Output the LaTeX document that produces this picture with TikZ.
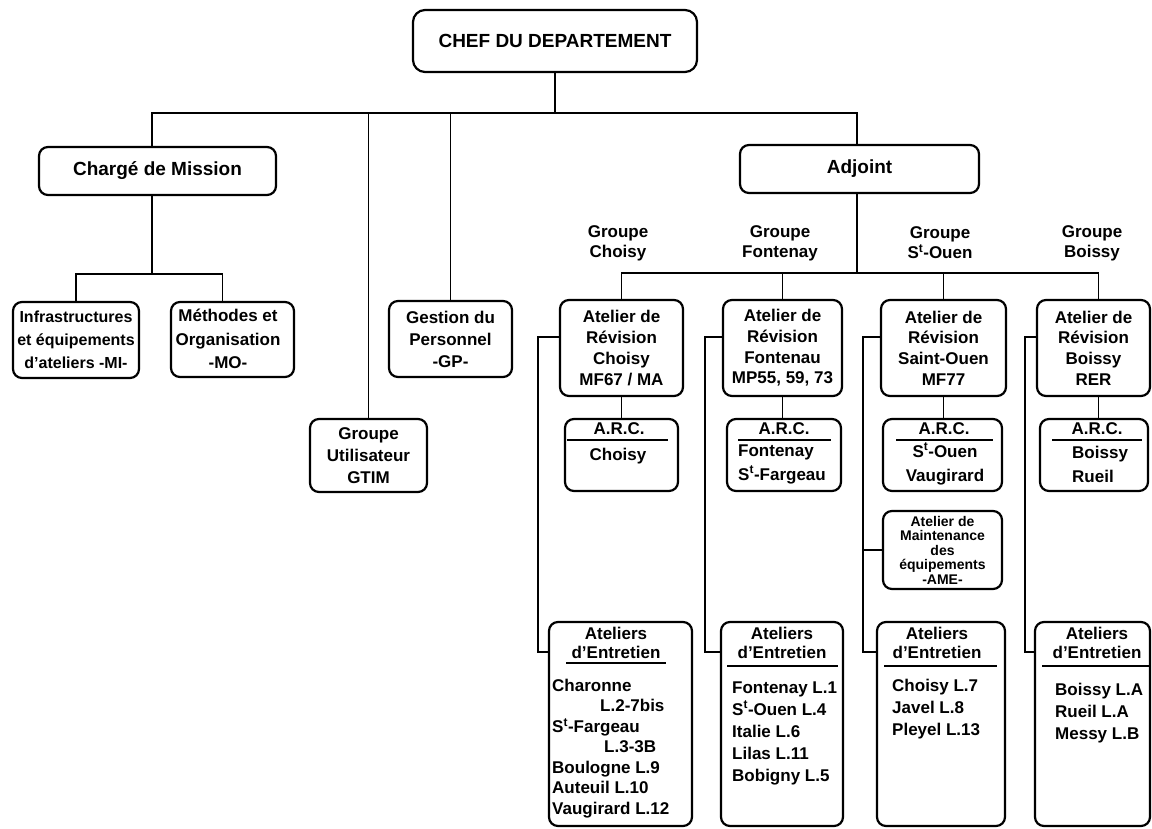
\documentclass[tikz,border=0pt]{standalone}
\usepackage{fontspec}
\setmainfont{Liberation Sans}
\newcommand{\St}{S\textsuperscript{t}}
\begin{document}
\begin{tikzpicture}[x=1pt,y=-1pt,
  box/.style={draw, line width=2.2pt, rounded corners=9pt, inner sep=0pt, align=center,
    font=\bfseries\fontsize{17}{22}\selectfont},
  conn/.style={line width=1.8pt},
  txt/.style={inner sep=0pt, align=center, font=\bfseries\fontsize{17}{22}\selectfont},
  list/.style={inner sep=0pt, align=left, anchor=west, font=\bfseries\fontsize{17}{22}\selectfont},
  rule/.style={line width=1.6pt},
]
\useasboundingbox (0,0) rectangle (1152,828);

% --- top level
\node[box, rounded corners=12pt, minimum width=284pt, minimum height=62pt,
  font=\bfseries\fontsize{19}{22}\selectfont] (chef) at (555,41) {CHEF DU DEPARTEMENT};
\node[box, minimum width=237pt, minimum height=48pt,
  font=\bfseries\fontsize{19}{22}\selectfont] (charge) at (157.5,171) {Chargé de Mission};
\node[box, minimum width=239pt, minimum height=48pt,
  font=\bfseries\fontsize{19}{22}\selectfont] (adjoint) at (859.5,169) {Adjoint};

% --- staff units
\node[box, minimum width=126pt, minimum height=76pt,
  font=\bfseries\fontsize{16}{23}\selectfont] (infra) at (76,340)
  {Infrastructures\\et équipements\\d'ateliers -MI-};
\node[box, minimum width=123pt, minimum height=75pt] (methodes) at (232.5,339.5) {};
\node[txt, font=\bfseries\fontsize{17}{23.5}\selectfont] (methodesT) at (228,339) {Méthodes et\\Organisation\\-MO-};
\node[box, minimum width=123pt, minimum height=76pt] (gestion) at (450.5,339)
  {Gestion du\\Personnel\\-GP-};
\node[box, minimum width=117pt, minimum height=73pt] (gtim) at (368.5,455.5)
  {Groupe\\Utilisateur\\GTIM};

% --- group headings
\node[txt, font=\bfseries\fontsize{17}{20}\selectfont] (gC) at (618,243) {Groupe\\Choisy};
\node[txt, font=\bfseries\fontsize{17}{20}\selectfont] (gF) at (780,243) {Groupe\\Fontenay};
\node[txt, font=\bfseries\fontsize{17}{20}\selectfont] (gS) at (940,243) {Groupe\\\St-Ouen};
\node[txt, font=\bfseries\fontsize{17}{20}\selectfont] (gB) at (1092,243) {Groupe\\Boissy};

% --- revision workshops
\node[box, minimum width=123pt, minimum height=96pt, font=\bfseries\fontsize{17}{20.7}\selectfont]
  (rc) at (621.5,348) {Atelier de\\Révision\\Choisy\\MF67 / MA};
\node[box, minimum width=119pt, minimum height=96pt, font=\bfseries\fontsize{17}{20.7}\selectfont]
  (rf) at (782.5,348) {Atelier de\\Révision\\Fontenau\\MP55, 59, 73};
\node[box, minimum width=125pt, minimum height=96pt, font=\bfseries\fontsize{17}{20.7}\selectfont]
  (rs) at (943.5,348) {Atelier de\\Révision\\Saint-Ouen\\MF77};
\node[box, minimum width=113pt, minimum height=96pt, font=\bfseries\fontsize{17}{20.7}\selectfont]
  (rb) at (1093.5,348) {Atelier de\\Révision\\Boissy\\RER};

% --- A.R.C. boxes
\node[box, minimum width=113pt, minimum height=72pt] (ac) at (621.5,455) {};
\node[box, minimum width=114pt, minimum height=72pt] (af) at (784,455) {};
\node[box, minimum width=119pt, minimum height=72pt] (as) at (942.5,455) {};
\node[box, minimum width=108pt, minimum height=72pt] (ab) at (1094,455) {};
\node[txt] (acH) at (619,429) {A.R.C.};
\node[txt] (afH) at (784,429) {A.R.C.};
\node[txt] (asH) at (944,429) {A.R.C.};
\node[txt] (abH) at (1097,429) {A.R.C.};
\draw[rule] (567,440) -- (668,440);
\draw[rule] (738,440) -- (831,440);
\draw[rule] (896,440) -- (993,440);
\draw[rule] (1052,440) -- (1142,440);
\node[txt] (acT) at (618,456) {Choisy};
\node[list, font=\bfseries\fontsize{17}{24}\selectfont] (afT) at (738,464) {Fontenay\\\St-Fargeau};
\node[txt, font=\bfseries\fontsize{17}{24}\selectfont] (asT) at (945,464) {\St-Ouen\\Vaugirard};
\node[list, font=\bfseries\fontsize{17}{24}\selectfont] (abT) at (1072,464) {Boissy\\Rueil};

% --- equipment maintenance
\node[box, minimum width=119pt, minimum height=78pt, font=\bfseries\fontsize{14}{14.5}\selectfont]
  (ame) at (942.5,550) {Atelier de\\Maintenance\\des\\équipements\\-AME-};

% --- maintenance workshops
\node[box, minimum width=143pt, minimum height=204pt] (ec) at (620.5,724) {};
\node[box, minimum width=122pt, minimum height=204pt] (ef) at (782,724) {};
\node[box, minimum width=128pt, minimum height=204pt] (es) at (941,724) {};
\node[box, minimum width=115pt, minimum height=204pt] (eb) at (1092.5,724) {};
\node[txt, font=\bfseries\fontsize{17}{19.5}\selectfont] (ecH) at (616,643) {Ateliers\\d'Entretien};
\node[txt, font=\bfseries\fontsize{17}{19.5}\selectfont] (efH) at (782,643) {Ateliers\\d'Entretien};
\node[txt, font=\bfseries\fontsize{17}{19.5}\selectfont] (esH) at (937,643) {Ateliers\\d'Entretien};
\node[txt, font=\bfseries\fontsize{17}{19.5}\selectfont] (ebH) at (1097,643) {Ateliers\\d'Entretien};
\draw[rule] (566,663) -- (666,663);
\draw[rule] (727,666) -- (838,666);
\draw[rule] (884,666) -- (997,666);
\draw[rule] (1042,666) -- (1150,666);
\node[list, font=\bfseries\fontsize{17}{20.5}\selectfont] (ecT) at (552,748.5)
  {Charonne\\\hspace*{48pt}L.2-7bis\\\St-Fargeau\\\hspace*{52pt}L.3-3B\\Boulogne L.9\\Auteuil L.10\\Vaugirard L.12};
\node[list] (efT) at (732,733)
  {Fontenay L.1\\\St-Ouen L.4\\Italie L.6\\Lilas L.11\\Bobigny L.5};
\node[list] (esT) at (892,709) {Choisy L.7\\Javel L.8\\Pleyel L.13};
\node[list] (ebT) at (1055,713) {Boissy L.A\\Rueil L.A\\Messy L.B};

% --- connectors: department head
\coordinate (busL) at (152,113);
\coordinate (busR) at (857,113);
\draw[conn] (chef.south) -- (chef.south |- busL);
\draw[conn] (charge.north -| busL) -- (busL) -- (busR) -- (adjoint.north -| busR);
\draw[conn] (gtim.north) -- (gtim.north |- busL);
\draw[conn] (gestion.north) -- (gestion.north |- busL);

% --- connectors: mission officer
\coordinate (mbus) at (152,274);
\draw[conn] (charge.south -| mbus) -- (mbus);
\draw[conn] (infra.north) |- (mbus) -| ([xshift=-10pt]methodes.north);

% --- connectors: deputy and groups
\coordinate (gbus) at (857,273);
\draw[conn] (adjoint.south -| gbus) -- (gbus);
\draw[conn] (rc.north) |- (gbus) -| ([xshift=5pt]rb.north);
\draw[conn] (rf.north) -- (rf.north |- gbus);
\draw[conn] (rs.north) -- (rs.north |- gbus);
\draw[conn] (rc.south) -- (ac.north);
\draw[conn] (rf.south) -- (rf.south |- af.north);
\draw[conn] (rs.south) -- (rs.south |- as.north);
\draw[conn] ([xshift=5pt]rb.south) -- ([xshift=5pt]rb.south |- ab.north);

% --- side brackets to maintenance workshops
\coordinate (sc1) at (538,337);  \coordinate (sc2) at (538,652);
\coordinate (sf1) at (705,337);  \coordinate (sf2) at (705,652);
\coordinate (ss1) at (863,337);  \coordinate (ss2) at (863,652);
\coordinate (sb1) at (1025,337); \coordinate (sb2) at (1025,652);
\draw[conn] (rc.west |- sc1) -- (sc1) -- (sc2) -- (ec.west |- sc2);
\draw[conn] (rf.west |- sf1) -- (sf1) -- (sf2) -- (ef.west |- sf2);
\draw[conn] (rs.west |- ss1) -- (ss1) -- (ss2) -- (es.west |- ss2);
\draw[conn] (ss1 |- ame.west) -- (ame.west);
\draw[conn] (rb.west |- sb1) -- (sb1) -- (sb2) -- (eb.west |- sb2);
\end{tikzpicture}
\end{document}
